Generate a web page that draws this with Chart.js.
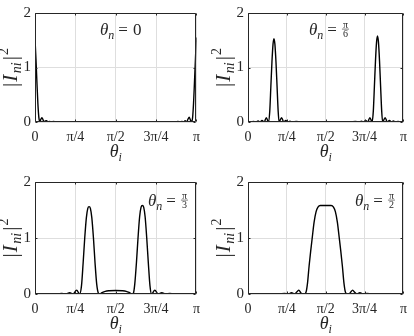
<!DOCTYPE html>
<html><head><meta charset="utf-8">
<script src="https://cdn.jsdelivr.net/npm/chart.js@4.4.1/dist/chart.umd.min.js"></script>
<style>
html,body{margin:0;padding:0;background:#fff;}
#wrap{position:relative;width:414px;height:336px;overflow:hidden;background:#fff;}
.p{position:absolute;width:207px;height:168px;}
canvas{display:block;}
</style></head><body>
<div id="wrap">
<div class="p" style="left:0;top:0"><canvas id="c0" width="207" height="168"></canvas></div>
<div class="p" style="left:207px;top:0"><canvas id="c1" width="207" height="168"></canvas></div>
<div class="p" style="left:0;top:168px"><canvas id="c2" width="207" height="168"></canvas></div>
<div class="p" style="left:207px;top:168px"><canvas id="c3" width="207" height="168"></canvas></div>
</div>
<script>
// x values are in units of π (0 … 1 ↔ 0 … π)
const xTickValues = [0, 0.25, 0.5, 0.75, 1];
const xTickLabels = ['0', 'π/4', 'π/2', '3π/4', 'π'];
const yTickValues = [0, 1, 2];
const panelLabels = ['0', 'π/6', 'π/3', 'π/2'];

// θn = 0
const thetaN0X = [0,0.006,0.012,0.018,0.024,0.03,0.036,0.043,0.05,0.056,0.064,0.072,0.08,0.09,0.1,0.115,0.13,0.15,0.17,0.2,0.23,0.3,0.35,0.5,0.65,0.7,0.77,0.8,0.83,0.85,0.87,0.885,0.9,0.91,0.92,0.93,0.938,0.947,0.955,0.962,0.97,0.976,0.982,0.988,0.994,1];
const thetaN0Y = [1.52,1.15,0.72,0.33,0.08,0,0.05,0.08,0.04,0,0.02,0.025,0,0.012,0,0.008,0,0.005,0,0.003,0,0.002,0,0,0,0.002,0,0.003,0,0.005,0,0.008,0,0.012,0,0.025,0,0.05,0.09,0.04,0,0.08,0.35,0.75,1.18,1.55];

// θn = π/6
const thetaN1X = [0,0.02,0.035,0.05,0.065,0.078,0.09,0.104,0.118,0.131,0.14,0.147,0.154,0.161,0.167,0.173,0.18,0.187,0.194,0.2,0.216,0.23,0.243,0.256,0.27,0.285,0.31,0.34,0.38,0.42,0.5,0.58,0.62,0.66,0.69,0.715,0.73,0.744,0.757,0.77,0.784,0.798,0.806,0.813,0.82,0.827,0.833,0.839,0.846,0.853,0.86,0.866,0.882,0.896,0.91,0.922,0.935,0.95,0.965,0.98,1];
const thetaN1Y = [0.008,0,0.01,0,0.02,0,0.03,0,0.08,0,0.2,0.65,1.1,1.43,1.53,1.43,1.1,0.65,0.2,0,0.08,0,0.03,0,0.015,0,0.008,0,0.004,0,0.003,0,0.004,0,0.008,0,0.015,0,0.03,0,0.08,0,0.2,0.65,1.12,1.47,1.58,1.47,1.12,0.65,0.2,0,0.08,0,0.03,0,0.02,0,0.01,0,0.008];

// θn = π/3
const thetaN2X = [0,0.04,0.08,0.11,0.14,0.165,0.19,0.215,0.235,0.258,0.276,0.288,0.298,0.308,0.318,0.327,0.335,0.343,0.352,0.362,0.372,0.382,0.392,0.4,0.415,0.435,0.46,0.5,0.54,0.565,0.585,0.602,0.61,0.618,0.628,0.638,0.648,0.657,0.665,0.673,0.682,0.692,0.702,0.712,0.722,0.742,0.763,0.785,0.81,0.835,0.86,0.89,0.92,0.96,1];
const thetaN2Y = [0,0.004,0,0.006,0,0.01,0,0.025,0,0.07,0,0.15,0.55,1.0,1.36,1.53,1.56,1.53,1.36,1.0,0.55,0.18,0.02,0,0.025,0.048,0.058,0.062,0.058,0.048,0.025,0,0.02,0.18,0.55,1.0,1.38,1.55,1.58,1.55,1.38,1.0,0.55,0.15,0,0.07,0,0.025,0,0.01,0,0.006,0,0.004,0];

// θn = π/2
const thetaN3X = [0,0.05,0.1,0.15,0.2,0.235,0.26,0.28,0.3,0.315,0.327,0.34,0.35,0.362,0.373,0.383,0.393,0.403,0.413,0.425,0.438,0.45,0.465,0.5,0.535,0.55,0.562,0.575,0.587,0.597,0.607,0.617,0.627,0.638,0.65,0.66,0.673,0.686,0.7,0.72,0.74,0.765,0.8,0.85,0.9,0.95,1];
const thetaN3Y = [0,0.004,0,0.006,0,0.012,0,0.025,0,0.04,0.07,0.02,0,0,0.03,0.2,0.5,0.76,1.0,1.28,1.47,1.55,1.58,1.58,1.58,1.55,1.47,1.28,1.0,0.76,0.5,0.2,0.03,0,0,0.03,0.07,0.03,0,0.025,0,0.012,0,0.006,0,0.004,0];

const SERIF = "'Liberation Serif','DejaVu Serif',serif";
const INK = '#262626';
function fnt(size, it){ return (it ? 'italic ' : '') + size + 'px ' + SERIF; }
function runsWidth(ctx, runs){
  let w = 0;
  for (const r of runs){ ctx.font = fnt(r.s, r.it); w += ctx.measureText(r.t).width + (r.g || 0); }
  return w;
}
function drawRuns(ctx, runs, x, y){
  let cx = x;
  for (const r of runs){
    ctx.font = fnt(r.s, r.it);
    ctx.fillText(r.t, cx, y + (r.dy || 0));
    cx += ctx.measureText(r.t).width + (r.g || 0);
  }
  return cx;
}

const panels = [
  {id:'c0', xs:thetaN0X, ys:thetaN0Y, yW:35, padR:10, padT:10, xH:46, ax:100, ay:35},
  {id:'c1', xs:thetaN1X, ys:thetaN1Y, yW:41, padR:4,  padT:10, xH:46, ax:102, ay:35},
  {id:'c2', xs:thetaN2X, ys:thetaN2Y, yW:35, padR:10, padT:14, xH:42, ax:148, ay:38},
  {id:'c3', xs:thetaN3X, ys:thetaN3Y, yW:41, padR:4,  padT:14, xH:42, ax:148, ay:38}
];

const decor = {
  id: 'decor',
  afterDraw(chart, args, opts){
    const ctx = chart.ctx, a = chart.chartArea;
    const xs = chart.scales.x, ys = chart.scales.y;
    ctx.save();
    // axes box
    ctx.strokeStyle = INK; ctx.lineWidth = 1;
    const L = Math.round(a.left) + 0.5, R = Math.round(a.right) - 0.5;
    const T = Math.round(a.top) + 0.5, B = Math.round(a.bottom) - 0.5;
    ctx.beginPath(); ctx.rect(L, T, R - L, B - T); ctx.stroke();
    // inward tick marks
    ctx.beginPath();
    for (const v of xTickValues){
      const px = Math.round(xs.getPixelForValue(v)) + 0.5;
      ctx.moveTo(px, B); ctx.lineTo(px, B - 2);
      ctx.moveTo(px, T); ctx.lineTo(px, T + 2);
    }
    for (const v of yTickValues){
      const py = Math.round(ys.getPixelForValue(v)) + 0.5;
      ctx.moveTo(L, py); ctx.lineTo(L + 2, py);
      ctx.moveTo(R, py); ctx.lineTo(R - 2, py);
    }
    ctx.stroke();

    ctx.fillStyle = INK;
    ctx.textBaseline = 'alphabetic';
    ctx.textAlign = 'left';
    // x axis title θ_i
    const xr = [{t:'θ', s:18, it:true}, {t:'i', s:12, it:true, dy:4}];
    const xw = runsWidth(ctx, xr);
    drawRuns(ctx, xr, (a.left + a.right) / 2 - xw / 2, a.bottom + 35);
    // y axis title |I_ni|^2
    const yr = [{t:'|', s:21, g:1}, {t:'I', s:21, it:true, g:1.5}, {t:'ni', s:14, it:true, dy:4, g:2}, {t:'|', s:21, g:1}, {t:'2', s:14, dy:-9}];
    const yw = runsWidth(ctx, yr);
    ctx.save();
    ctx.translate(a.left - 25, (a.top + a.bottom) / 2);
    ctx.rotate(-Math.PI / 2);
    drawRuns(ctx, yr, -yw / 2, 7);
    ctx.restore();
    // annotation θn = value
    const lab = opts.label;
    let cx = drawRuns(ctx, [{t:'θ', s:17, it:true}, {t:'n', s:12, it:true, dy:4, g:4}, {t:'=', s:17, g:5}], opts.ax, opts.ay);
    if (lab === '0'){
      drawRuns(ctx, [{t:'0', s:17}], cx, opts.ay);
    } else {
      const parts = lab.split('/');
      ctx.font = fnt(10, false);
      const wn = ctx.measureText(parts[0]).width, wd = ctx.measureText(parts[1]).width;
      const bw = Math.max(wn, wd) + 2;
      const by = opts.ay - 6;
      ctx.fillText(parts[0], cx + (bw - wn) / 2, by - 1.5);
      ctx.fillText(parts[1], cx + (bw - wd) / 2, by + 8);
      ctx.fillRect(cx, by - 0.25, bw, 0.6);
    }
    ctx.restore();
  }
};

panels.forEach((p, i) => {
  const data = p.xs.map((x, k) => ({x: x, y: p.ys[k]}));
  new Chart(document.getElementById(p.id), {
    type: 'line',
    data: {datasets: [{data: data, borderColor: '#000', borderWidth: 1.4, pointRadius: 0, fill: false, cubicInterpolationMode: 'monotone'}]},
    options: {
      responsive: false, animation: false, devicePixelRatio: 1,
      layout: {padding: {top: p.padT, right: p.padR, left: 0, bottom: 0}},
      plugins: {legend: {display: false}, tooltip: {enabled: false}, decor: {label: panelLabels[i], ax: p.ax, ay: p.ay}},
      scales: {
        x: {
          type: 'linear', min: 0, max: 1,
          afterBuildTicks: s => { s.ticks = xTickValues.map(v => ({value: v})); },
          afterFit: s => { s.height = p.xH; },
          ticks: {autoSkip: false, maxRotation: 0, padding: 7, color: INK, font: {family: SERIF, size: 14},
                  callback: v => xTickLabels[xTickValues.indexOf(v)]},
          grid: {color: '#dedede', drawTicks: false},
          border: {display: false}
        },
        y: {
          min: 0, max: 2,
          afterBuildTicks: s => { s.ticks = yTickValues.map(v => ({value: v})); },
          afterFit: s => { s.width = p.yW; },
          ticks: {padding: 4, color: INK, font: {family: SERIF, size: 15}},
          grid: {color: '#dedede', drawTicks: false},
          border: {display: false}
        }
      }
    },
    plugins: [decor]
  });
});
</script>
</body></html>
